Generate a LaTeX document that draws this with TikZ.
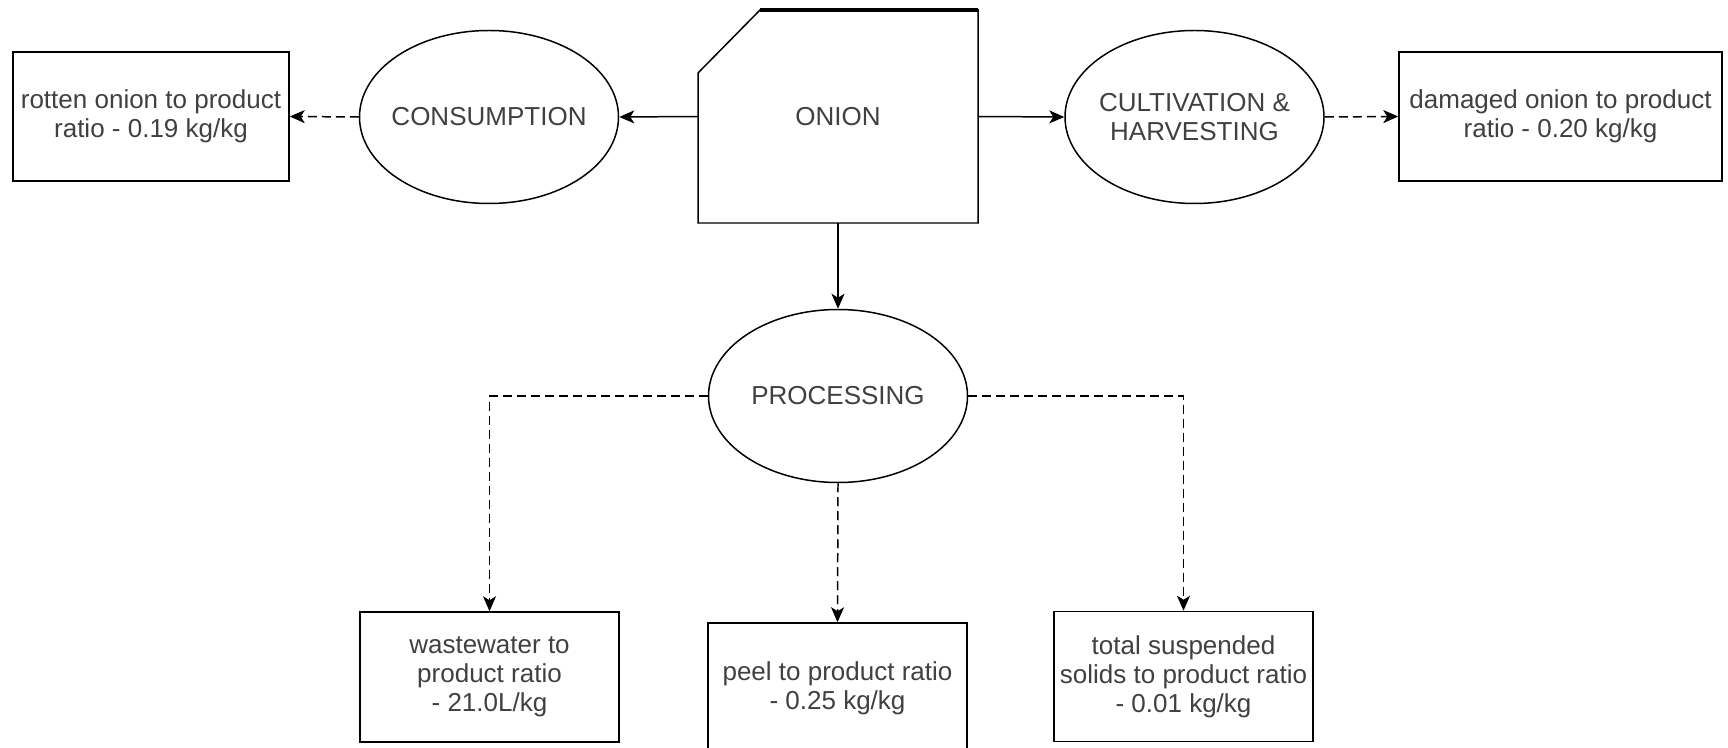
\documentclass[tikz,border=0pt]{standalone}
\usepackage{fontspec}
\setmainfont{Liberation Sans}
\usepackage{xcolor}
\usepackage{tikz}
\usetikzlibrary{arrows.meta,shapes.geometric}

\definecolor{labelgrey}{HTML}{404040}

\begin{document}
\begin{tikzpicture}[
    every node/.style={font=\fontsize{14.8}{16.5}\selectfont, text=labelgrey, align=center},
    stage/.style={ellipse, draw, line width=0.85pt, minimum width=5.18cm, minimum height=3.46cm, inner xsep=-0.3cm, inner ysep=0pt},
    ratiobox/.style={rectangle, draw, line width=0.85pt, minimum height=2.58cm, inner sep=0pt},
    flow/.style={-{Stealth[length=0.3cm,width=0.26cm,inset=0.08cm]}, line width=0.85pt},
    waste/.style={flow, dash pattern=on 0.18cm off 0.1cm}
]

% Frame of the picture
\useasboundingbox (0,0) rectangle (34.56,-14.96);

% Onion (card shape, thick top edge)
\node[minimum width=5.6cm, minimum height=4.26cm, outer sep=0pt] (onion) at (16.76,-2.33) {ONION};
\draw[line width=0.85pt] (onion.south west) -- ([yshift=-1.26cm]onion.north west)
            -- ([xshift=1.24cm]onion.north west) -- (onion.north east)
            -- (onion.south east) -- cycle;
\draw[line width=2.2pt] ([xshift=1.24cm]onion.north west) -- (onion.north east);

% Stages
\node[stage] (cons) at (9.78,-2.34) {CONSUMPTION};
\node[stage] (cult) at (23.89,-2.34) {CULTIVATION \&\\HARVESTING};
\node[stage] (proc) at (16.76,-7.92) {PROCESSING};

% Ratio boxes, top row
\node[ratiobox, minimum width=5.52cm] (rotten) at (3.02,-2.33) {rotten onion to product\\ratio - 0.19 kg/kg};
\node[ratiobox, minimum width=6.46cm] (damaged) at (31.21,-2.33) {damaged onion to product\\ratio - 0.20 kg/kg};

% Ratio boxes, bottom row
\node[ratiobox, minimum width=5.18cm, minimum height=2.6cm] (water) at (9.79,-13.54) {wastewater to\\product ratio\\- 21.0L/kg};
\node[ratiobox, minimum width=5.18cm, minimum height=2.6cm] (peel) at (16.75,-13.76) {peel to product ratio\\- 0.25 kg/kg};
\node[ratiobox, minimum width=5.18cm, minimum height=2.6cm] (solids) at (23.67,-13.53) {total suspended\\solids to product ratio\\- 0.01 kg/kg};

% Main flows
\draw[flow] (onion.west) -- (cons.east);
\draw[flow] (onion.east) -- (cult.west);
\draw[flow] (onion.south) -- (proc.north);

% Losses
\draw[waste] (cons.west) -- (rotten.east);
\draw[waste] (cult.east) -- (damaged.west);
\draw[waste] (proc.west) -| (water.north);
\draw[waste] (proc.south) -- (peel.north);
\draw[waste] (proc.east) -| (solids.north);

\end{tikzpicture}
\end{document}
